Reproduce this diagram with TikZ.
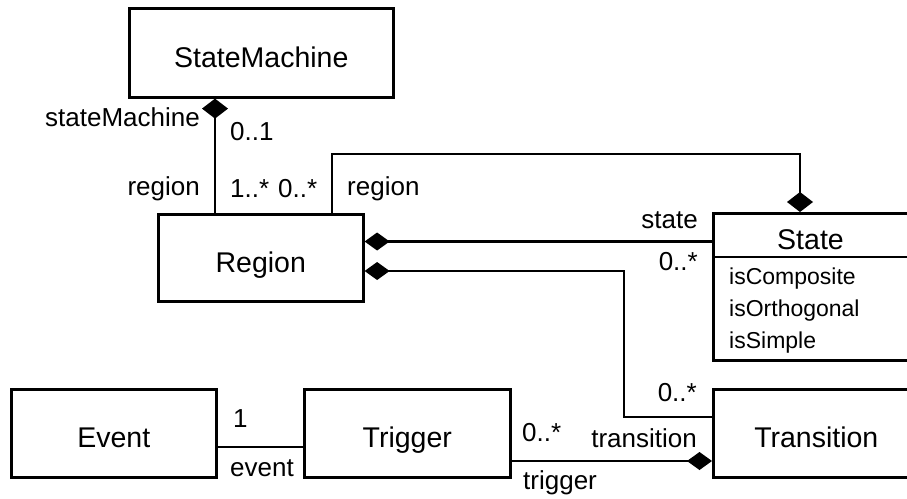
\documentclass[tikz,border=0pt]{standalone}
\usepackage{fontspec}
\setmainfont{Liberation Sans}
\usetikzlibrary{arrows.meta}
\tikzset{
  hdia/.tip={Diamond[length=25pt,width=18pt]},
  vdia/.tip={Diamond[length=20pt,width=26pt]}
}
\begin{document}
\begin{tikzpicture}[x=1pt,y=-1pt,
  box/.style={draw,line width=2.6pt,rectangle,inner sep=0pt,anchor=north west,
    text height=28.4pt,text depth=0pt,font=\fontsize{28.5}{34}\selectfont},
  lbl/.style={inner sep=0pt,font=\fontsize{26}{31}\selectfont},
  attr/.style={inner sep=0pt,anchor=west,font=\fontsize{23}{28}\selectfont},
  ttl/.style={inner sep=0pt,text height=20.4pt,text depth=0pt,font=\fontsize{28.5}{34}\selectfont},
  conn/.style={line width=2.6pt}
]
\useasboundingbox (0,0) rectangle (907,498);
\clip (0,0) rectangle (907,498);

% classes
\node[box,minimum width=264pt,minimum height=89pt] (sm) at (128,7) {StateMachine};
\node[box,minimum width=205pt,minimum height=87pt] (rg) at (157,213) {Region};
\node[box,minimum width=197pt,minimum height=147pt] (st) at (712,212) {};
\node[box,minimum width=206pt,minimum height=88pt] (tr) at (712,388) {Transition};
\node[box,minimum width=205pt,minimum height=88pt] (ev) at (10,388) {Event};
\node[box,minimum width=206pt,minimum height=88pt] (tg) at (303,388) {Trigger};

% State compartments
\node[ttl] (sttitle) at (810.5,239) {State};
\coordinate (sep) at (0,257);
\draw[line width=1.5pt] (st.west |- sep) -- (st.east |- sep);
\node[attr] (a1) at (729,279) {isComposite};
\node[attr] (a2) at (729,311) {isOrthogonal};
\node[attr] (a3) at (729,343) {isSimple};

% connectors
\coordinate (c1) at (215,0);
\draw[conn,{vdia}-] (sm.south -| c1) -- (rg.north -| c1);

\coordinate (c2) at (332,154);
\coordinate (c3) at (800,154);
\draw[conn,-{vdia}] (rg.north -| c2) -- (c2) -- (c3) -- (st.north -| c3);

\coordinate (c4) at (0,241.5);
\draw[conn,{hdia}-] (rg.east |- c4) -- (st.west |- c4);

\coordinate (c5) at (624,271);
\coordinate (c6) at (624,417);
\draw[conn,{hdia}-] (rg.east |- c5) -- (c5) -- (c6) -- (tr.west |- c6);

\coordinate (c7) at (0,447);
\draw[conn] (ev.east |- c7) -- (tg.west |- c7);

\coordinate (c8) at (0,461);
\draw[conn,-{hdia}] (tg.east |- c8) -- (tr.west |- c8);

% labels
\node[lbl,anchor=east] (l1) at (200,117) {stateMachine};
\node[lbl,anchor=west] (l2) at (230,132) {0..1};
\node[lbl,anchor=east] (l3) at (200,189) {region};
\node[lbl,anchor=west] (l4) at (230,189) {1..*};
\node[lbl,anchor=west] (l5) at (278,189) {0..*};
\node[lbl,anchor=west] (l6) at (347,189) {region};
\node[lbl,anchor=east] (l7) at (698,220) {state};
\node[lbl,anchor=east] (l8) at (698,262) {0..*};
\node[lbl,anchor=east] (l9) at (697,393) {0..*};
\node[lbl,anchor=east] (l10) at (697,438) {transition};
\node[lbl,anchor=west] (l11) at (522,433) {0..*};
\node[lbl,anchor=west] (l12) at (523,483) {trigger};
\node[lbl,anchor=west] (l13) at (233,419) {1};
\node[lbl,anchor=west] (l14) at (230,468) {event};
\end{tikzpicture}
\end{document}
